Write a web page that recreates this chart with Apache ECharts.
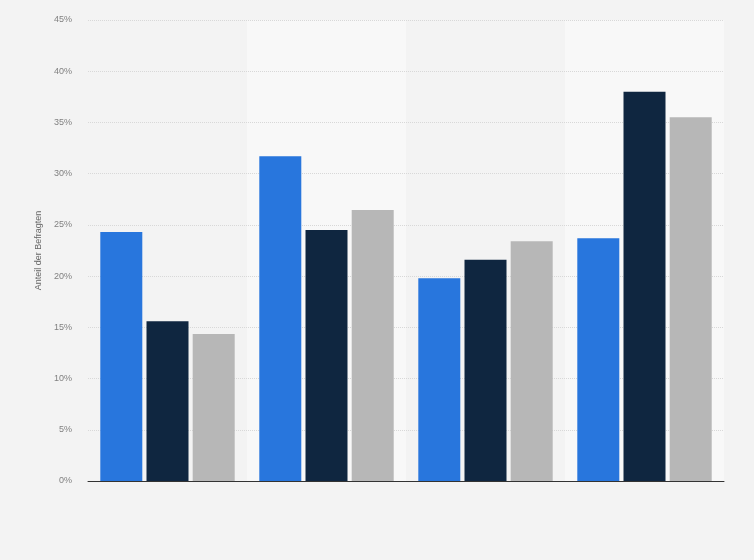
<!DOCTYPE html>
<html>
<head>
<meta charset="utf-8">
<script src="https://cdn.jsdelivr.net/npm/echarts@6/dist/echarts.min.js"></script>
<style>
html, body { margin: 0; padding: 0; background: #f3f3f3; }
#chart { width: 754px; height: 560px; }
</style>
</head>
<body>
<div id="chart"></div>
<script>
// Werte in Prozent
var categories = ['', ' ', '  ', '   '];
var serieBlau = [24.3, 31.7, 19.8, 23.7];
var serieDunkel = [15.6, 24.5, 21.6, 38.0];
var serieGrau = [14.35, 26.45, 23.4, 35.5];
var yTicks = [0, 5, 10, 15, 20, 25, 30, 35, 40, 45];

(function(){
    var chart = echarts.init(document.getElementById('chart'));
    var opt = {
        backgroundColor: '#f3f3f3',
        animation: false,
        grid: { left: 88, right: 30, top: 20, bottom: 79 },
        xAxis: {
            type: 'category',
            data: categories,
            z: 0,
            axisLine: { show: true, lineStyle: { color: '#333', width: 1 } },
            axisTick: { show: false },
            axisLabel: { show: false },
            splitArea: { show: true, areaStyle: { color: ['#f3f3f3', '#f8f8f8'] } }
        },
        yAxis: {
            type: 'value',
            z: 1,
            min: yTicks[0],
            max: yTicks[yTicks.length - 1],
            interval: 5,
            name: 'Anteil der Befragten',
            nameLocation: 'middle',
            nameGap: 42,
            nameTextStyle: { color: '#666', fontSize: 9, fontFamily: 'Liberation Sans' },
            axisLine: { show: false },
            axisTick: { show: false },
            axisLabel: {
                color: '#808080', fontSize: 9, fontFamily: 'Liberation Sans', margin: 16,
                formatter: function (v) { return v + '%'; }
            },
            splitLine: { showMinLine: false, lineStyle: { color: '#d8d8d8', type: 'dotted', width: 1 } }
        },
        series: [
            { name: 'Blau', type: 'bar', data: serieBlau, barWidth: 42, barGap: '10%',
              itemStyle: { color: '#2876dd' } },
            { name: 'Dunkel', type: 'bar', data: serieDunkel, barWidth: 42, barGap: '10%',
              itemStyle: { color: '#0f2640' } },
            { name: 'Grau', type: 'bar', data: serieGrau, barWidth: 42, barGap: '10%',
              itemStyle: { color: '#b7b7b7' } }
        ]
    };
    chart.setOption(opt);
})();
</script>
</body>
</html>
